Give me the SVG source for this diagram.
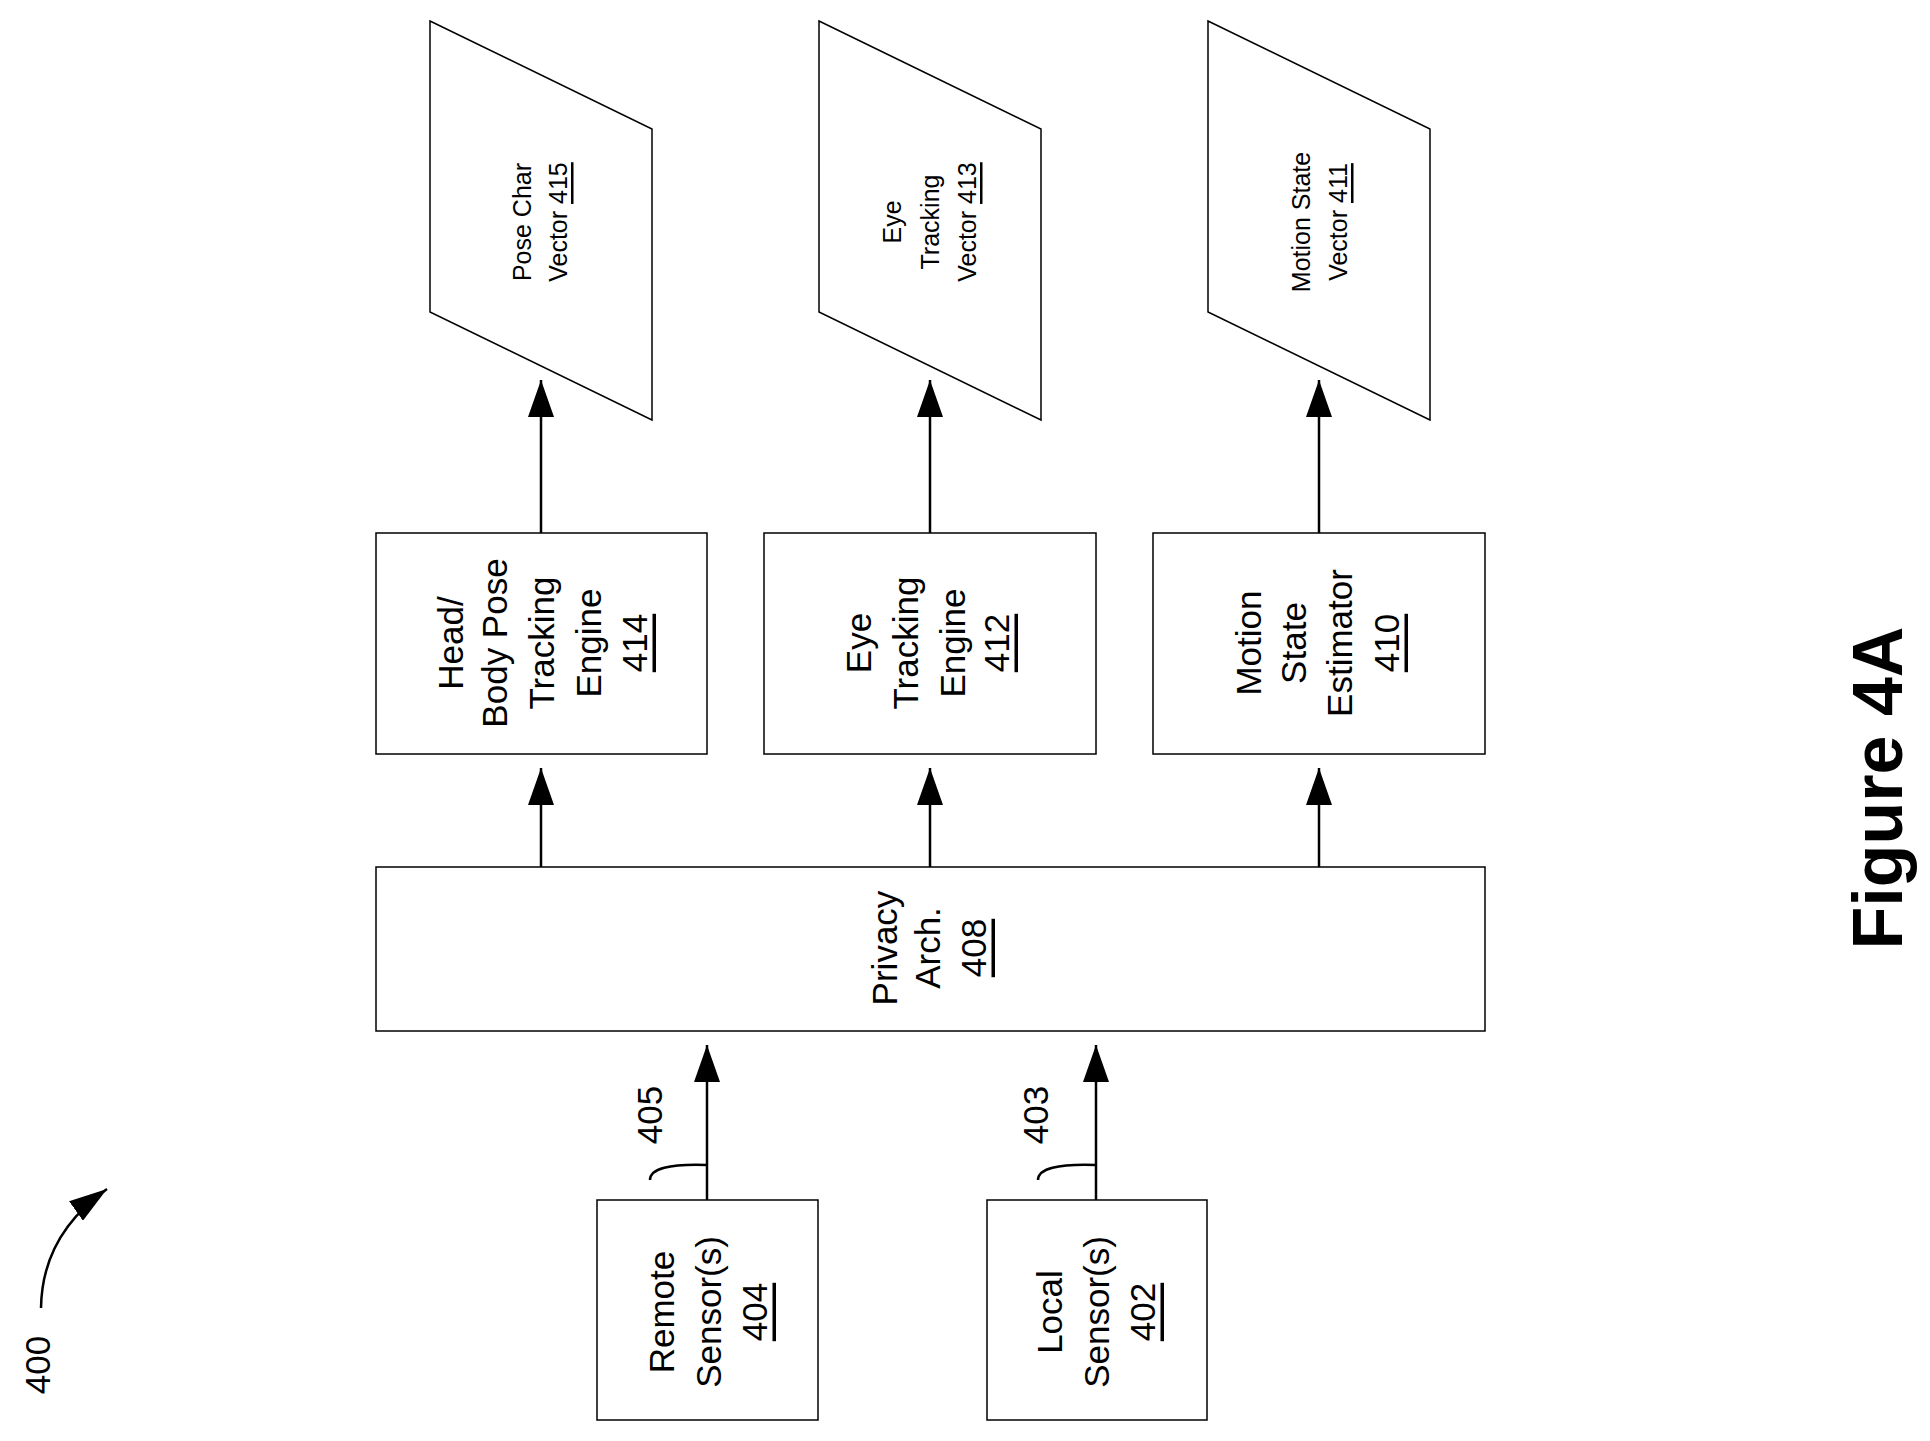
<svg xmlns="http://www.w3.org/2000/svg" width="1930" height="1441" viewBox="0 0 1930 1441">
<style>
.b{fill:#fff;stroke:#000;stroke-width:1.5}
.c{stroke:#000;stroke-width:2.5;fill:none}
text{font-family:"Liberation Sans",Arial,sans-serif;fill:#000;text-anchor:middle;dominant-baseline:central}
.t{font-size:35px}
.s{font-size:25px}
.u{text-decoration:underline}
</style>
<defs><marker id="a" markerWidth="26" markerHeight="37" refX="13" refY="0" orient="0" markerUnits="userSpaceOnUse"><path d="M13,0L26,37L0,37Z" fill="#000"/></marker>
<marker id="h" markerWidth="38" markerHeight="24" refX="38" refY="12" orient="auto" markerUnits="userSpaceOnUse"><path d="M0,0L38,12L0,24Z" fill="#000"/></marker></defs>
<rect width="1930" height="1441" fill="#fff"/>
<g id="n415"><path class="b" d="M430,21L652,129L652,420L430,312Z"/><text class="s" transform="rotate(-90 522 222)" x="522" y="222">Pose Char</text><text class="s" transform="rotate(-90 558 222)" x="558" y="222">Vector <tspan class="u">415</tspan></text></g>
<g id="n413"><path class="b" d="M819,21L1041,129L1041,420L819,312Z"/><text class="s" transform="rotate(-90 892 222)" x="892" y="222">Eye</text><text class="s" transform="rotate(-90 930 222)" x="930" y="222">Tracking</text><text class="s" transform="rotate(-90 967 222)" x="967" y="222">Vector <tspan class="u">413</tspan></text></g>
<g id="n411"><path class="b" d="M1208,21L1430,129L1430,420L1208,312Z"/><text class="s" transform="rotate(-90 1301 222)" x="1301" y="222">Motion State</text><text class="s" transform="rotate(-90 1338 222)" x="1338" y="222">Vector <tspan class="u">411</tspan></text></g>
<g id="n414"><rect class="b" x="376" y="533" width="331" height="221"/><text class="t" transform="rotate(-90 450 643)" x="450" y="643">Head/</text><text class="t" transform="rotate(-90 494 643)" x="494" y="643">Body Pose</text><text class="t" transform="rotate(-90 541 643)" x="541" y="643">Tracking</text><text class="t" transform="rotate(-90 588 643)" x="588" y="643">Engine</text><text class="t u" transform="rotate(-90 634 643)" x="634" y="643">414</text></g>
<g id="n412"><rect class="b" x="764" y="533" width="332" height="221"/><text class="t" transform="rotate(-90 858 643)" x="858" y="643">Eye</text><text class="t" transform="rotate(-90 905 643)" x="905" y="643">Tracking</text><text class="t" transform="rotate(-90 952 643)" x="952" y="643">Engine</text><text class="t u" transform="rotate(-90 996 643)" x="996" y="643">412</text></g>
<g id="n410"><rect class="b" x="1153" y="533" width="332" height="221"/><text class="t" transform="rotate(-90 1248 643)" x="1248" y="643">Motion</text><text class="t" transform="rotate(-90 1293 643)" x="1293" y="643">State</text><text class="t" transform="rotate(-90 1339 643)" x="1339" y="643">Estimator</text><text class="t u" transform="rotate(-90 1386 643)" x="1386" y="643">410</text></g>
<g id="n408"><rect class="b" x="376" y="867" width="1109" height="164"/><text class="t" transform="rotate(-90 884 948)" x="884" y="948">Privacy</text><text class="t" transform="rotate(-90 927 948)" x="927" y="948">Arch.</text><text class="t u" transform="rotate(-90 973 948)" x="973" y="948">408</text></g>
<g id="n404"><rect class="b" x="597" y="1200" width="221" height="220"/><text class="t" transform="rotate(-90 661 1312)" x="661" y="1312">Remote</text><text class="t" transform="rotate(-90 708 1312)" x="708" y="1312">Sensor(s)</text><text class="t u" transform="rotate(-90 754 1312)" x="754" y="1312">404</text></g>
<g id="n402"><rect class="b" x="987" y="1200" width="220" height="220"/><text class="t" transform="rotate(-90 1049 1312)" x="1049" y="1312">Local</text><text class="t" transform="rotate(-90 1096 1312)" x="1096" y="1312">Sensor(s)</text><text class="t u" transform="rotate(-90 1142 1312)" x="1142" y="1312">402</text></g>
<g id="connectors">
<path class="c" d="M541,533V380" marker-end="url(#a)"/>
<path class="c" d="M930,533V380" marker-end="url(#a)"/>
<path class="c" d="M1319,533V380" marker-end="url(#a)"/>
<path class="c" d="M541,867V768" marker-end="url(#a)"/>
<path class="c" d="M930,867V768" marker-end="url(#a)"/>
<path class="c" d="M1319,867V768" marker-end="url(#a)"/>
<path class="c" d="M707,1200V1045" marker-end="url(#a)"/>
<path class="c" d="M1096,1200V1045" marker-end="url(#a)"/>
<path class="c" d="M650,1180Q650,1163 707,1165"/>
<path class="c" d="M1038,1180Q1038,1163 1096,1165"/>
<path class="c" d="M41,1308Q42,1235 107,1189" marker-end="url(#h)"/>
</g>
<text class="t" transform="rotate(-90 649 1115)" x="649" y="1115">405</text>
<text class="t" transform="rotate(-90 1035 1115)" x="1035" y="1115">403</text>
<text class="t" transform="rotate(-90 37 1365)" x="37" y="1365">400</text>
<text transform="rotate(-90 1878 788)" x="1878" y="788" style="font-size:70px;font-weight:bold">Figure 4A</text>
</svg>
